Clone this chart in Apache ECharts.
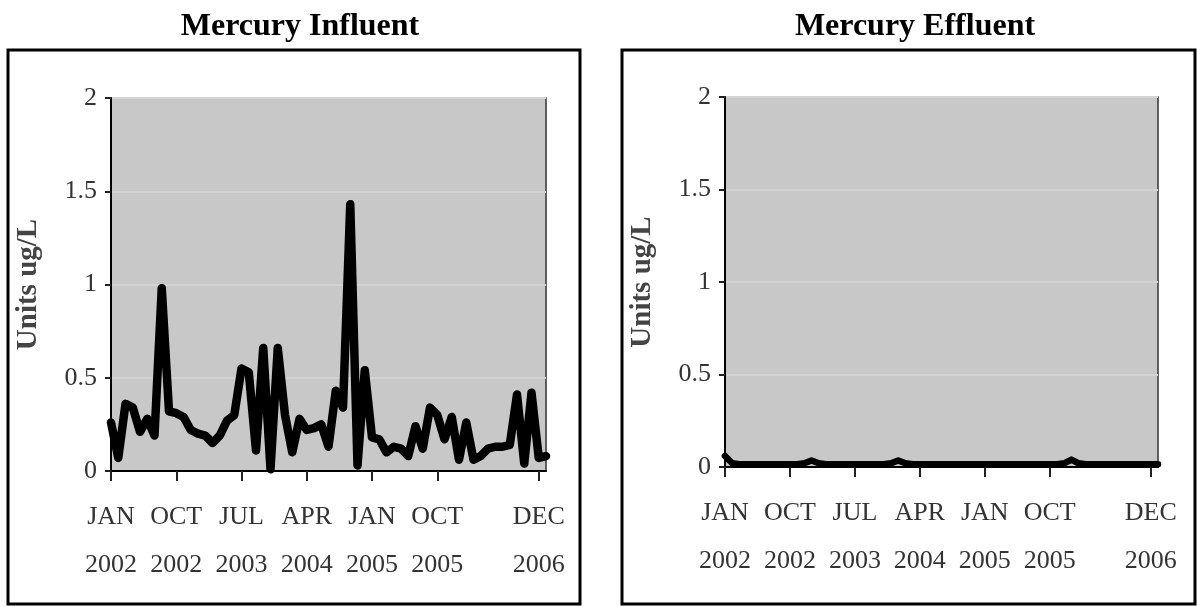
<!DOCTYPE html>
<html>
<head>
<meta charset="utf-8">
<script src="https://cdn.jsdelivr.net/npm/echarts@6/dist/echarts.min.js"></script>
<style>
  html, body { margin: 0; padding: 0; background: #fff; }
  #chart { width: 1197px; height: 607px; }
</style>
</head>
<body>
<div id="chart"></div>
<script>
// months counted from JAN 2002 (0) to JAN 2007 (60)
let tickMonths = [0, 9, 18, 27, 36, 45, 59];
let tickLabels = ['JAN\n2002', 'OCT\n2002', 'JUL\n2003', 'APR\n2004', 'JAN\n2005', 'OCT\n2005', 'DEC\n2006'];
let yTicks = [0, 0.5, 1, 1.5, 2];

// Mercury Influent, ug/L, one reading per month
let influent = [
  0.26, 0.07, 0.36, 0.34, 0.21, 0.28, 0.19, 0.98, 0.32, 0.31,
  0.29, 0.22, 0.20, 0.19, 0.15, 0.19, 0.27, 0.30, 0.55, 0.53,
  0.11, 0.66, 0.01, 0.66, 0.30, 0.10, 0.28, 0.22, 0.23, 0.25,
  0.13, 0.43, 0.34, 1.43, 0.03, 0.54, 0.18, 0.17, 0.10, 0.13,
  0.12, 0.08, 0.24, 0.12, 0.34, 0.30, 0.17, 0.29, 0.06, 0.26,
  0.06, 0.08, 0.12, 0.13, 0.13, 0.14, 0.41, 0.04, 0.42, 0.07,
  0.08
];

// Mercury Effluent, ug/L
let effluent = [
  0.06, 0.02, 0.015, 0.015, 0.015, 0.015, 0.015, 0.015, 0.015, 0.015,
  0.015, 0.02, 0.035, 0.02, 0.015, 0.015, 0.015, 0.015, 0.015, 0.015,
  0.015, 0.015, 0.015, 0.02, 0.035, 0.02, 0.015, 0.015, 0.015, 0.015,
  0.015, 0.015, 0.015, 0.015, 0.015, 0.015, 0.015, 0.015, 0.015, 0.015,
  0.015, 0.015, 0.015, 0.015, 0.015, 0.015, 0.015, 0.02, 0.04, 0.02,
  0.015, 0.015, 0.015, 0.015, 0.015, 0.015, 0.015, 0.015, 0.015, 0.015,
  0.015
];

let months = [];
for (let i = 0; i < influent.length; i++) months.push(i);

let serif = "'Liberation Serif', 'DejaVu Serif', serif";
let isTick = (idx) => tickMonths.indexOf(idx) >= 0;

function xAxisFor(gridIndex) {
  return {
    type: 'category',
    gridIndex: gridIndex,
    data: months,
    boundaryGap: false,
    axisLine: { show: true, lineStyle: { color: '#000', width: 2 } },
    axisTick: { show: true, length: 10, interval: isTick, lineStyle: { color: '#222', width: 2 } },
    axisLabel: {
      interval: isTick,
      margin: 22,
      color: '#333',
      fontFamily: serif,
      fontSize: 26,
      lineHeight: 48,
      formatter: (v, idx) => tickLabels[tickMonths.indexOf(idx)] || ''
    },
    splitLine: { show: false }
  };
}

function yAxisFor(gridIndex) {
  return {
    type: 'value',
    gridIndex: gridIndex,
    min: 0,
    max: 2,
    interval: 0.5,
    name: 'Units ug/L',
    nameLocation: 'middle',
    nameRotate: 90,
    nameGap: 68,
    nameTextStyle: { fontFamily: serif, fontSize: 29, fontWeight: 'bold', color: '#444' },
    axisLine: { show: true, lineStyle: { color: '#000', width: 2 } },
    axisTick: { show: true, length: 6, lineStyle: { color: '#222', width: 2 } },
    axisLabel: {
      margin: 14,
      color: '#333',
      fontFamily: serif,
      fontSize: 26,
      formatter: (v) => (yTicks.indexOf(v) >= 0 ? String(v) : '')
    },
    splitLine: { show: true, lineStyle: { color: '#d3d3d3', width: 2 } }
  };
}

function lineSeries(data, idx, width) {
  return {
    type: 'line',
    xAxisIndex: idx,
    yAxisIndex: idx,
    data: data,
    symbol: 'none',
    lineStyle: { color: '#000', width: width, join: 'round', cap: 'round' }
  };
}

let chart = echarts.init(document.getElementById('chart'), null, { renderer: 'canvas' });

let option = {
  backgroundColor: '#fff',
  animation: false,
  title: [
    { text: 'Mercury Influent', left: 295, top: 6, textAlign: 'center',
      textStyle: { fontFamily: serif, fontSize: 32, fontWeight: 'bold', color: '#000' } },
    { text: 'Mercury Effluent', left: 910, top: 6, textAlign: 'center',
      textStyle: { fontFamily: serif, fontSize: 32, fontWeight: 'bold', color: '#000' } }
  ],
  graphic: [
    { type: 'rect', shape: { x: 8, y: 50, width: 572, height: 554 },
      style: { fill: 'none', stroke: '#000', lineWidth: 3 }, z: -1 },
    { type: 'rect', shape: { x: 622, y: 50, width: 573, height: 554 },
      style: { fill: 'none', stroke: '#000', lineWidth: 3 }, z: -1 }
  ],
  grid: [
    { left: 111, top: 98, width: 435, height: 373, show: true,
      backgroundColor: '#c8c8c8', borderColor: '#333', borderWidth: 1.5 },
    { left: 725, top: 97, width: 433, height: 370, show: true,
      backgroundColor: '#c8c8c8', borderColor: '#333', borderWidth: 1.5 }
  ],
  xAxis: [xAxisFor(0), xAxisFor(1)],
  yAxis: [yAxisFor(0), yAxisFor(1)],
  series: [lineSeries(influent, 0, 8.5), lineSeries(effluent, 1, 6.5)]
};

chart.setOption(option);
</script>
</body>
</html>
